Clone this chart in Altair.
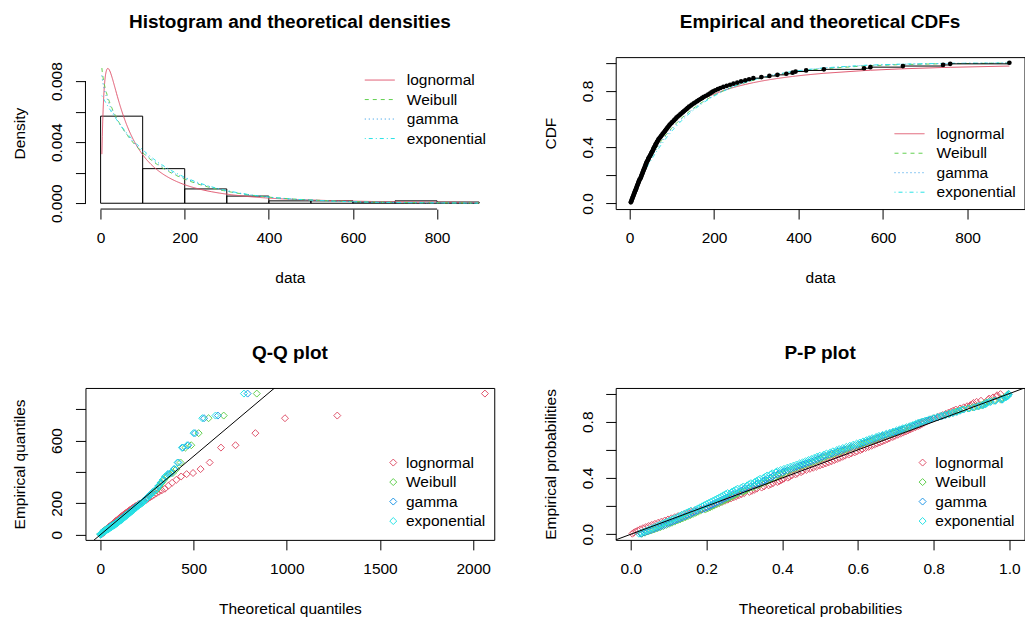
import math
import numpy as np
import pandas as pd
import altair as alt

# ---------------- values ----------------
sample = [3, 4, 5, 6, 7, 8, 9, 10, 11, 12, 13, 14, 15, 16, 17, 18, 19, 20, 21, 22, 23, 24,
          26, 27, 28, 29, 30, 31, 32, 33, 34, 35, 36, 37, 38, 39, 40, 41, 43, 44, 45, 46, 48, 49,
          51, 52, 53, 55, 56, 57, 58, 60, 61, 62, 64, 65, 67, 68, 70, 72, 74,
          76, 78, 80, 82, 84, 86, 88, 90, 92, 94, 96, 99,
          101, 104, 106, 109, 111, 114, 117, 120, 123,
          126, 129, 132, 135, 138, 141, 145, 148,
          152, 156, 160, 164, 168, 172,
          176, 181, 186, 190, 194, 198,
          203, 209, 215, 222, 230, 238, 246,
          255, 264, 274, 283, 293,
          312, 331, 350, 371, 386, 393,
          418, 460, 555, 570, 647, 742, 759, 899]

DISTS = ["lognormal", "Weibull", "gamma", "exponential"]
COLORS = ["#DF536B", "#61D04F", "#2297E6", "#28E2E5"]
DASHES = [[1, 0], [4, 4], [1, 3], [1, 3, 4, 3]]

# fitted model parameters (estimated from the drawn curves)
LN_MEANLOG, LN_SDLOG = 4.36, 1.23
WB_SHAPE, WB_SCALE = 0.93, 133.0
GA_SHAPE, GA_RATE = 0.93, 0.0068
EXP_RATE = 0.0072

HIST_BREAKS = [0, 100, 200, 300, 400, 500, 600, 700, 800, 900]
DATA_TICKS = [0, 200, 400, 600, 800]
DENS_TICKS = [0, 0.002, 0.004, 0.006, 0.008]
PROB_TICKS = [0, 0.2, 0.4, 0.6, 0.8, 1.0]
QQX_TICKS = [0, 500, 1000, 1500, 2000]
QQY_TICKS = [0, 200, 400, 600, 800]

TITLES = ["Histogram and theoretical densities", "Empirical and theoretical CDFs",
          "Q-Q plot", "P-P plot"]

# ---------------- model functions ----------------
def reg_lower_gamma(a, x):
    if x <= 0:
        return 0.0
    lead = math.exp(-x + a * math.log(x) - math.lgamma(a))
    if x < a + 1:
        term = 1.0 / a
        s = term
        k = 1
        while abs(term) > abs(s) * 1e-15 and k < 1000:
            term *= x / (a + k)
            s += term
            k += 1
        return s * lead
    b = x + 1 - a
    c = 1e300
    d = 1.0 / b
    h = d
    for i in range(1, 1000):
        an = -i * (i - a)
        b += 2
        d = an * d + b
        d = d if abs(d) > 1e-300 else 1e-300
        c = b + an / c
        c = c if abs(c) > 1e-300 else 1e-300
        d = 1.0 / d
        delta = d * c
        h *= delta
        if abs(delta - 1) < 1e-15:
            break
    return 1 - lead * h

PDF = {
    "lognormal": lambda x: math.exp(-(math.log(x) - LN_MEANLOG) ** 2 / (2 * LN_SDLOG ** 2))
    / (x * LN_SDLOG * math.sqrt(2 * math.pi)),
    "Weibull": lambda x: WB_SHAPE / WB_SCALE * (x / WB_SCALE) ** (WB_SHAPE - 1)
    * math.exp(-((x / WB_SCALE) ** WB_SHAPE)),
    "gamma": lambda x: math.exp(GA_SHAPE * math.log(GA_RATE) + (GA_SHAPE - 1) * math.log(x)
                                - GA_RATE * x - math.lgamma(GA_SHAPE)),
    "exponential": lambda x: EXP_RATE * math.exp(-EXP_RATE * x),
}
CDF = {
    "lognormal": lambda x: 0.5 * (1 + math.erf((math.log(x) - LN_MEANLOG) / (LN_SDLOG * math.sqrt(2)))),
    "Weibull": lambda x: 1 - math.exp(-((x / WB_SCALE) ** WB_SHAPE)),
    "gamma": lambda x: reg_lower_gamma(GA_SHAPE, GA_RATE * x),
    "exponential": lambda x: 1 - math.exp(-EXP_RATE * x),
}

def quantile(d, p):
    lo, hi = 1e-9, 1e5
    for _ in range(120):
        mid = 0.5 * (lo + hi)
        if CDF[d](mid) < p:
            lo = mid
        else:
            hi = mid
    return 0.5 * (lo + hi)

xs = sorted(float(v) for v in sample)
n = len(xs)
pp = [(i + 0.5) / n for i in range(n)]

counts, _ = np.histogram(xs, bins=HIST_BREAKS)
hist_df = pd.DataFrame({"lo": HIST_BREAKS[:-1], "hi": HIST_BREAKS[1:],
                        "density": counts / (n * 100.0), "zero": 0.0})

dens_df = pd.DataFrame([{"x": x, "y": PDF[d](x), "dist": d} for d in DISTS for x in xs])
cdf_df = pd.DataFrame([{"x": x, "y": CDF[d](x), "dist": d} for d in DISTS for x in xs])
qq_df = pd.DataFrame([{"t": quantile(d, pp[i]), "e": xs[i], "dist": d} for d in DISTS for i in range(n)])
pp_df = pd.DataFrame([{"t": CDF[d](xs[i]), "e": pp[i], "dist": d} for d in DISTS for i in range(n)])
ecdf_df = pd.DataFrame({"x": xs, "F": [(i + 1) / n for i in range(n)],
                        "xn": xs[1:] + [xs[-1]]})

# ---------------- style ----------------
FONT = "Liberation Sans"
FS = 15.5
W, H = 409, 152
LINE_SYMBOL = "M-2.5,0H2.5"

def xaxis(values, title, fmt=None):
    kw = dict(values=values, title=title, tickCount=20, labelPadding=11.2, titlePadding=24.5,
              labelOverlap=False, labelFlush=False)
    if fmt:
        kw["format"] = fmt
    return alt.Axis(**kw)

def yaxis(values, title, expr, fmt=None):
    kw = dict(values=values, title=title, tickCount=20, labelAngle=270, labelAlign="center",
              labelBaseline="alphabetic", labelPadding=13.5, titlePadding=22,
              labelOverlap=False, labelFlush=False, labelExpr=expr)
    if fmt:
        kw["format"] = fmt
    return alt.Axis(**kw)

def line_legend(lx, ly):
    return alt.Legend(title=None, orient="none", legendX=lx, legendY=ly, symbolType=LINE_SYMBOL,
                      symbolSize=144, symbolStrokeWidth=1, labelOffset=19.3)

def point_legend(lx, ly):
    return alt.Legend(title=None, orient="none", legendX=lx, legendY=ly, symbolType="diamond",
                      symbolSize=49, symbolStrokeWidth=1, symbolFillColor="transparent",
                      labelOffset=5)

def color_enc(leg):
    return alt.Color("dist:N", scale=alt.Scale(domain=DISTS, range=COLORS), legend=leg)

def dash_enc(leg):
    return alt.StrokeDash("dist:N", scale=alt.Scale(domain=DISTS, range=DASHES), legend=leg)

# ---------------- panel 1: histogram + densities ----------------
sx1 = alt.Scale(domain=[-36, 936], nice=False, zero=False)
sy1 = alt.Scale(domain=[-0.00038, 0.00957], nice=False, zero=False)
bars = alt.Chart(hist_df).mark_rect(fillOpacity=0, stroke="black", strokeWidth=1).encode(
    x=alt.X("lo:Q", scale=sx1, axis=xaxis(DATA_TICKS, "data")),
    x2="hi:Q",
    y=alt.Y("density:Q", scale=sy1,
            axis=yaxis(DENS_TICKS, "Density", "round(datum.value*1000) % 4 == 0 ? datum.label : ''", ".3f")),
    y2="zero:Q",
)
leg1 = line_legend(286.7, 15.2)
curves1 = alt.Chart(dens_df).mark_line(strokeWidth=1, clip=True).encode(
    x="x:Q", y="y:Q", color=color_enc(leg1), strokeDash=dash_enc(leg1))
xline_df = pd.DataFrame({"a": [DATA_TICKS[0]], "b": [DATA_TICKS[-1]], "c": [-0.00038]})
yline_df = pd.DataFrame({"a": [DENS_TICKS[0]], "b": [DENS_TICKS[-1]], "c": [-36]})
xline = alt.Chart(xline_df).mark_rule(stroke="black", strokeWidth=1).encode(x="a:Q", x2="b:Q", y="c:Q")
yline = alt.Chart(yline_df).mark_rule(stroke="black", strokeWidth=1).encode(y="a:Q", y2="b:Q", x="c:Q")
p1 = alt.layer(bars, curves1, xline, yline).properties(
    width=W, height=H, title=TITLES[0], view=alt.ViewBackground(stroke="transparent"))

# ---------------- panel 2: CDFs ----------------
sx2 = alt.Scale(domain=[-32.8, 934.8], nice=False, zero=False)
sy2 = alt.Scale(domain=[-0.04, 1.04], nice=False, zero=False)
prob_expr = "round(datum.value*10) % 4 == 0 ? datum.label : ''"
leg2 = line_legend(286.2, 68.9)
curves2 = alt.Chart(cdf_df).mark_line(strokeWidth=1, clip=True).encode(
    x=alt.X("x:Q", scale=sx2, axis=xaxis(DATA_TICKS, "data")),
    y=alt.Y("y:Q", scale=sy2, axis=yaxis(PROB_TICKS, "CDF", prob_expr, ".1f")),
    color=color_enc(leg2), strokeDash=dash_enc(leg2))
steps = alt.Chart(ecdf_df).mark_rule(stroke="black", strokeWidth=1).encode(
    x="x:Q", x2="xn:Q", y="F:Q")
dots = alt.Chart(ecdf_df).mark_circle(fill="black", size=22, opacity=1).encode(x="x:Q", y="F:Q")
p2 = alt.layer(curves2, steps, dots).properties(width=W, height=H, title=TITLES[1])

# ---------------- panel 3: Q-Q ----------------
sx3 = alt.Scale(domain=[-80, 2113], nice=False, zero=False)
sy3 = alt.Scale(domain=[-32.8, 934.8], nice=False, zero=False)
leg3 = point_legend(300.2, 66.9)
qq_pts = alt.Chart(qq_df).mark_point(shape="diamond", filled=False, size=49, strokeWidth=1,
                                     opacity=1, clip=True).encode(
    x=alt.X("t:Q", scale=sx3, axis=xaxis(QQX_TICKS, "Theoretical quantiles", "d")),
    y=alt.Y("e:Q", scale=sy3,
            axis=yaxis(QQY_TICKS, "Empirical quantiles",
                       "datum.value == 0 || datum.value == 200 || datum.value == 600 ? datum.label : ''")),
    color=color_enc(leg3),
)
ab3 = alt.Chart(pd.DataFrame({"u": [-80, 2113]})).mark_line(stroke="black", strokeWidth=1, clip=True).encode(
    x="u:Q", y="u:Q")
p3 = alt.layer(qq_pts, ab3).properties(width=W, height=H, title=TITLES[2])

# ---------------- panel 4: P-P ----------------
sx4 = alt.Scale(domain=[-0.04, 1.04], nice=False, zero=False)
sy4 = alt.Scale(domain=[-0.04, 1.04], nice=False, zero=False)
leg4 = point_legend(299.3, 66.9)
pp_pts = alt.Chart(pp_df).mark_point(shape="diamond", filled=False, size=49, strokeWidth=1,
                                     opacity=1, clip=True).encode(
    x=alt.X("t:Q", scale=sx4, axis=xaxis(PROB_TICKS, "Theoretical probabilities", ".1f")),
    y=alt.Y("e:Q", scale=sy4, axis=yaxis(PROB_TICKS, "Empirical probabilities", prob_expr, ".1f")),
    color=color_enc(leg4),
)
ab4 = alt.Chart(pd.DataFrame({"u": [-0.04, 1.04]})).mark_line(stroke="black", strokeWidth=1, clip=True).encode(
    x="u:Q", y="u:Q")
p4 = alt.layer(pp_pts, ab4).properties(width=W, height=H, title=TITLES[3])

chart = alt.concat(p1, p2, p3, p4, columns=2, spacing={"row": 179, "column": 121.5}, bounds="flush")
chart = chart.resolve_scale(color="independent", strokeDash="independent").resolve_legend(
    color="independent", strokeDash="independent")
chart = chart.properties(padding={"left": 11.5, "top": 12, "right": 0, "bottom": 0}, background="white")
chart = chart.configure_axis(
    domain=False, grid=False, tickColor="black", tickSize=10, tickWidth=1, labelOverlap=False,
    labelFont=FONT, labelFontSize=FS, labelColor="black",
    titleFont=FONT, titleFontSize=FS, titleFontWeight="normal", titleColor="black",
).configure_legend(
    labelFont=FONT, labelFontSize=FS, labelColor="black", padding=0, rowPadding=2.5,
).configure_title(
    font=FONT, fontSize=19, fontWeight="bold", color="black", anchor="middle",
    baseline="alphabetic", offset=25,
).configure_view(stroke="black", strokeWidth=1)

chart.save("out.html", embed_options={"renderer": "svg", "actions": False})
